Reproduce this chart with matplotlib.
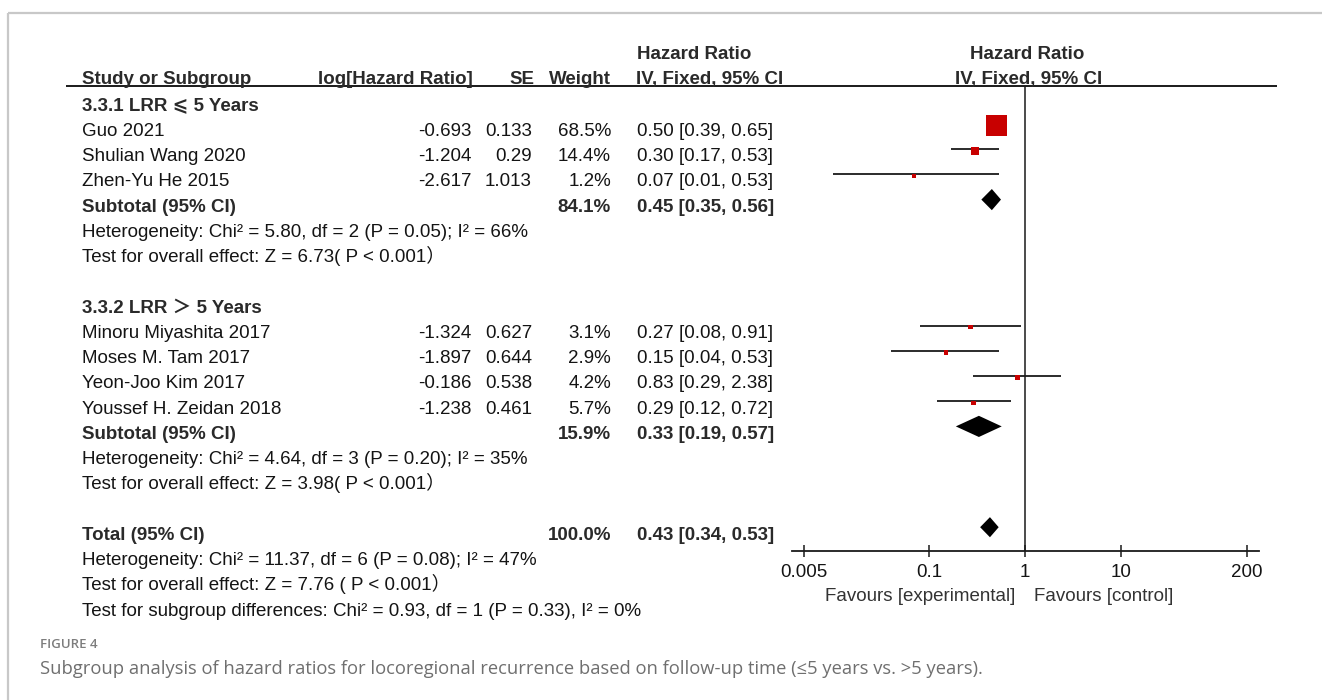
import matplotlib
matplotlib.use("Agg")
import matplotlib.pyplot as plt
from matplotlib.ticker import NullLocator

# ---------------- data ----------------
group_titles = ["3.3.1 LRR ⩽ 5 Years", "3.3.2 LRR ＞ 5 Years"]

g1_studies = ["Guo 2021", "Shulian Wang 2020", "Zhen-Yu He 2015"]
g1_loghr = [-0.693, -1.204, -2.617]
g1_se = [0.133, 0.29, 1.013]
g1_weight = [68.5, 14.4, 1.2]
g1_hr = [0.50, 0.30, 0.07]
g1_lo = [0.39, 0.17, 0.01]
g1_hi = [0.65, 0.53, 0.53]

g2_studies = ["Minoru Miyashita 2017", "Moses M. Tam 2017", "Yeon-Joo Kim 2017", "Youssef H. Zeidan 2018"]
g2_loghr = [-1.324, -1.897, -0.186, -1.238]
g2_se = [0.627, 0.644, 0.538, 0.461]
g2_weight = [3.1, 2.9, 4.2, 5.7]
g2_hr = [0.27, 0.15, 0.83, 0.29]
g2_lo = [0.08, 0.04, 0.29, 0.12]
g2_hi = [0.91, 0.53, 2.38, 0.72]

sub_weight = [84.1, 15.9]
sub_hr = [0.45, 0.33]
sub_lo = [0.35, 0.19]
sub_hi = [0.56, 0.57]

sub_het = ["Heterogeneity: Chi² = 5.80, df = 2 (P = 0.05); I² = 66%",
           "Heterogeneity: Chi² = 4.64, df = 3 (P = 0.20); I² = 35%"]
sub_test = ["Test for overall effect: Z = 6.73( P < 0.001）",
            "Test for overall effect: Z = 3.98( P < 0.001）"]

total_weight = 100.0
total_hr = 0.43
total_lo = 0.34
total_hi = 0.53
total_notes = ["Heterogeneity: Chi² = 11.37, df = 6 (P = 0.08); I² = 47%",
               "Test for overall effect: Z = 7.76 ( P < 0.001）",
               "Test for subgroup differences: Chi² = 0.93, df = 1 (P = 0.33), I² = 0%"]

tick_values = [0.005, 0.1, 1, 10, 200]
tick_labels = ["0.005", "0.1", "1", "10", "200"]
favours = ["Favours [experimental]", "Favours [control]"]

caption_label = "FIGURE 4"
caption_text = ("Subgroup analysis of hazard ratios for locoregional recurrence based on "
                "follow-up time (≤5 years vs. >5 years).")

# ---------------- layout ----------------
W, H = 1322, 700
FAM = ["Liberation Sans", "DejaVu Sans", "Noto Sans CJK SC"]
FS = 13.5
TXT = "#141414"
BOLD = "#2a2a2a"
RED = "#c80000"

fig = plt.figure(figsize=(W / 100, H / 100), dpi=100)
fig.patch.set_facecolor("white")

ov = fig.add_axes([0, 0, 1, 1])
ov.set_xlim(0, W)
ov.set_ylim(H, 0)
ov.axis("off")

# frame lines
ov.plot([8, W], [12.5, 12.5], color="#c8c8c8", lw=1.6, solid_capstyle="butt")
ov.plot([8, 8], [12.5, H], color="#c8c8c8", lw=1.6, solid_capstyle="butt")

ROW0 = 85.3
DY = 25.25


def base(r):
    return ROW0 + DY * r


def put(x, r, s, ha="left", bold=False, color=None, size=FS):
    ov.text(x, base(r), s, ha=ha, va="baseline", fontsize=size,
            family=FAM, fontweight="bold" if bold else "normal",
            color=color if color else (BOLD if bold else TXT))


X_NAME, X_LOG, X_SE, X_W, X_CI = 82, 471.5, 532, 611, 637

# headers (r = -1 and 0 sit slightly higher, just above the rule)
ov.text(637, 59, "Hazard Ratio", ha="left", va="baseline", fontsize=FS, family=FAM,
        fontweight="bold", color=BOLD)
ov.text(1027, 59, "Hazard Ratio", ha="center", va="baseline", fontsize=FS, family=FAM,
        fontweight="bold", color=BOLD)
hdr_y = 84.3
for x, s, ha in [(X_NAME, "Study or Subgroup", "left"),
                 (473, "log[Hazard Ratio]", "right"),
                 (534, "SE", "right"),
                 (611, "Weight", "right"),
                 (636, "IV, Fixed, 95% CI", "left"),
                 (1029, "IV, Fixed, 95% CI", "center")]:
    ov.text(x, hdr_y, s, ha=ha, va="baseline", fontsize=FS, family=FAM,
            fontweight="bold", color=BOLD)
ov.plot([66, 1277], [86, 86], color="#1a1a1a", lw=1.4, solid_capstyle="butt")

# forest axes
AX_L, AX_R, AX_T, AX_B = 791.7, 1259.3, 86, 551
fx = fig.add_axes([AX_L / W, 1 - AX_B / H, (AX_R - AX_L) / W, (AX_B - AX_T) / H])
fx.set_facecolor("none")
fx.set_xscale("log")
fx.set_xlim(10 ** -2.427, 10 ** 2.433)
M0, MDY = 73.6, 25.2
fx.set_ylim((AX_B - M0) / MDY, (AX_T - M0) / MDY)
for sp in ["top", "left", "right"]:
    fx.spines[sp].set_visible(False)
fx.spines["bottom"].set_linewidth(1.3)
fx.spines["bottom"].set_color("#1a1a1a")
fx.set_yticks([])
fx.set_xticks(tick_values)
fx.set_xticklabels(tick_labels, family=FAM)
fx.xaxis.set_minor_locator(NullLocator())
fx.tick_params(axis="x", direction="inout", length=8, width=1.1, pad=5.5,
               labelsize=FS, labelcolor=TXT, color="#1a1a1a")
fx.axvline(1, color="#1a1a1a", lw=1.1, zorder=1)

max_w = max(g1_weight + g2_weight)

groups = [
    (g1_studies, g1_loghr, g1_se, g1_weight, g1_hr, g1_lo, g1_hi),
    (g2_studies, g2_loghr, g2_se, g2_weight, g2_hr, g2_lo, g2_hi),
]

HALF_D = 0.42
r = 1
for gi, (names, lhr, se, wt, hr, lo, hi) in enumerate(groups):
    put(X_NAME, r, group_titles[gi], bold=True)
    r += 1
    rows = []
    for k in range(len(names)):
        put(X_NAME, r, names[k])
        put(X_LOG, r, f"{lhr[k]:.3f}", ha="right")
        put(X_SE, r, f"{se[k]:g}", ha="right")
        put(X_W, r, f"{wt[k]:.1f}%", ha="right")
        put(X_CI, r, f"{hr[k]:.2f} [{lo[k]:.2f}, {hi[k]:.2f}]")
        rows.append(r)
        r += 1
    fx.hlines(rows, lo, hi, color="#1a1a1a", lw=1.3, zorder=2)
    sides_px = [max(21 * (w / max_w) ** 0.65, 4.4) for w in wt]
    fx.scatter(hr, [y + 0.06 for y in rows], s=[(s * 0.72) ** 2 for s in sides_px],
               marker="s", color=RED, linewidths=0, zorder=3)
    # subtotal
    put(X_NAME, r, "Subtotal (95% CI)", bold=True)
    put(X_W, r, f"{sub_weight[gi]:.1f}%", ha="right", bold=True)
    put(X_CI, r, f"{sub_hr[gi]:.2f} [{sub_lo[gi]:.2f}, {sub_hi[gi]:.2f}]", bold=True)
    fx.fill([sub_lo[gi], sub_hr[gi], sub_hi[gi], sub_hr[gi]],
            [r, r - HALF_D, r, r + HALF_D], color="black", lw=0, zorder=3)
    r += 1
    put(X_NAME, r, sub_het[gi])
    r += 1
    put(X_NAME, r, sub_test[gi])
    r += 2

# total
put(X_NAME, r, "Total (95% CI)", bold=True)
put(X_W, r, f"{total_weight:.1f}%", ha="right", bold=True)
put(X_CI, r, f"{total_hr:.2f} [{total_lo:.2f}, {total_hi:.2f}]", bold=True)
fx.fill([total_lo, total_hr, total_hi, total_hr],
        [r, r - HALF_D * 0.95, r, r + HALF_D * 0.95], color="black", lw=0, zorder=3)
r += 1
for note in total_notes:
    put(X_NAME, r, note)
    r += 1

# favours labels
ov.text(1015, 601, favours[0], ha="right", va="baseline", fontsize=FS, family=FAM, color="#333333")
ov.text(1034, 601, favours[1], ha="left", va="baseline", fontsize=FS, family=FAM, color="#333333")

# caption
ov.text(40, 648, caption_label, ha="left", va="baseline", fontsize=9.5,
        family=["Open Sans", "DejaVu Sans"], fontweight="semibold", color="#7d7d7d")
ov.text(40, 674, caption_text, ha="left", va="baseline", fontsize=13.25,
        family=["Open Sans", "DejaVu Sans"], color="#6f6f6f")

fig.savefig("out.png", dpi=100, facecolor="white")
